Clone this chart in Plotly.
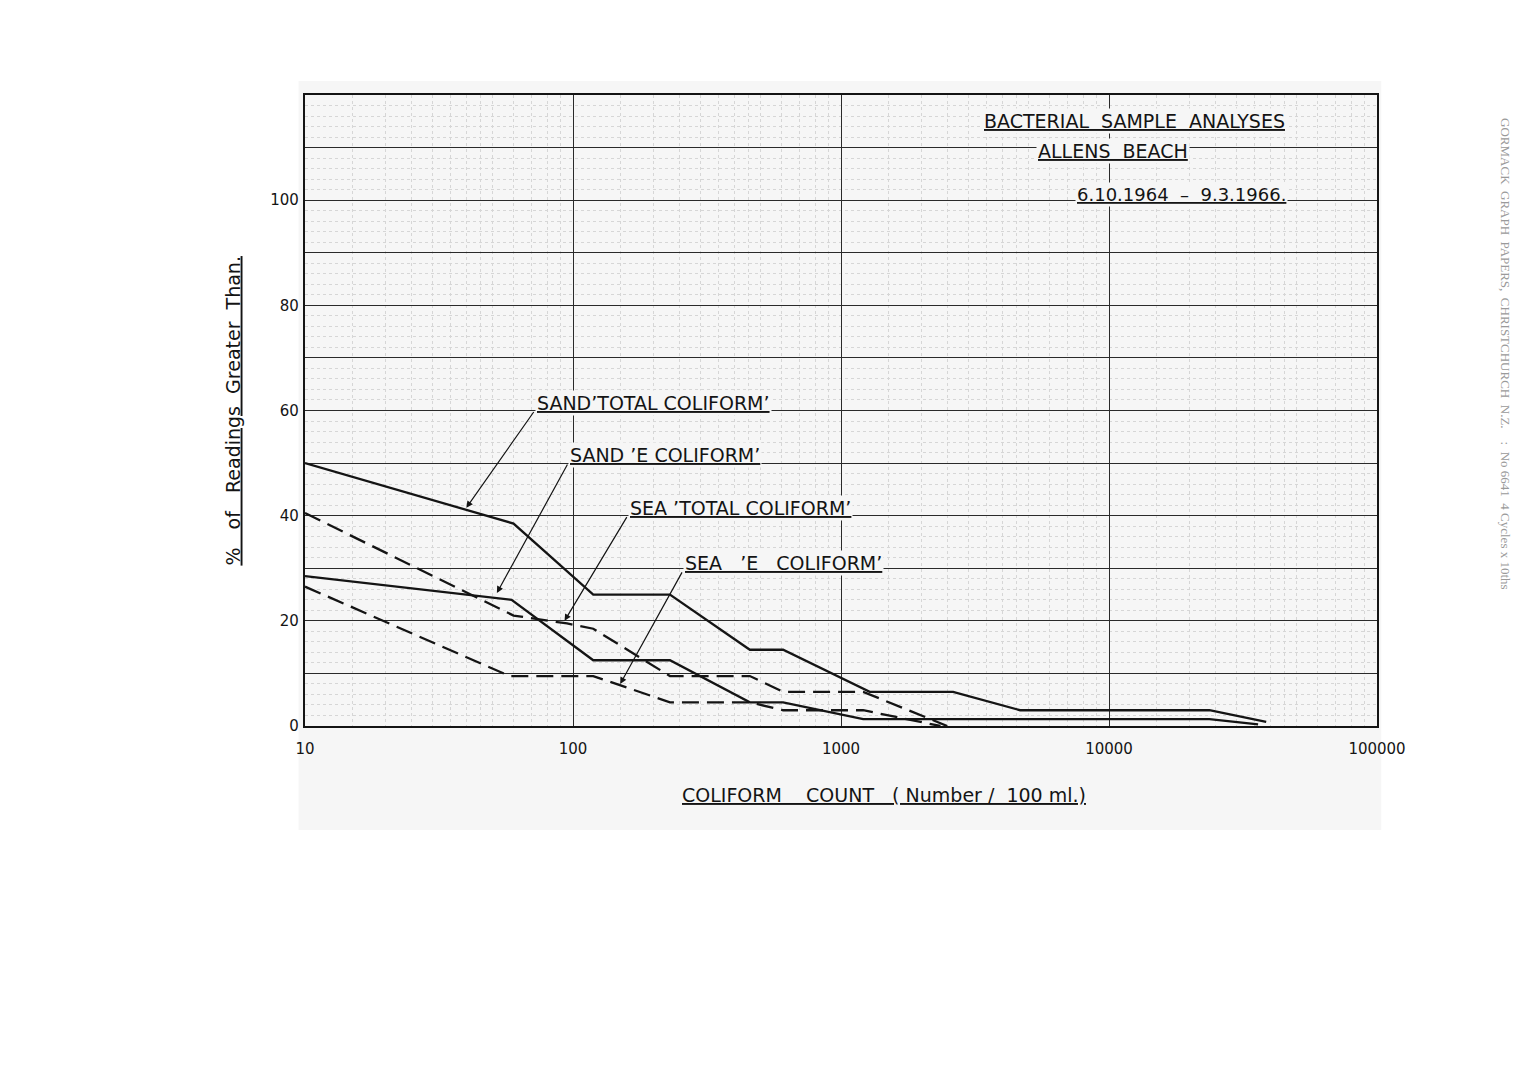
import math
import plotly.graph_objects as go

# ---------------- data ----------------
sand_total_x = [10, 60, 119, 230, 457, 608, 1280, 2620, 4660, 23700, 38600]
sand_total_y = [50, 38.5, 25, 25, 14.5, 14.5, 6.5, 6.5, 3, 3, 0.8]

sand_e_x = [10, 59, 119, 230, 457, 608, 1210, 23700, 36000]
sand_e_y = [28.5, 24, 12.5, 12.5, 4.5, 4.5, 1.3, 1.3, 0.3]

sea_total_x = [10, 60, 95, 119, 230, 457, 608, 1210, 2490]
sea_total_y = [40.5, 21, 19.5, 18.5, 9.5, 9.5, 6.5, 6.5, 0]

sea_e_x = [10, 58, 119, 230, 457, 608, 1210, 2350]
sea_e_y = [26.5, 9.5, 9.5, 4.5, 4.5, 3, 3, 0]

series_labels = ["SAND’TOTAL COLIFORM’", "SAND ’E COLIFORM’",
                 "SEA ’TOTAL COLIFORM’", "SEA   ’E   COLIFORM’"]
arrow_tip_x = [40, 52, 93, 150]
arrow_tip_y = [41.5, 25.3, 20, 8]
label_x = [72, 96, 160, 257]
label_y = [60, 50, 40, 29.5]

x_tick_vals = [10, 100, 1000, 10000, 100000]
x_tick_text = ["10", "100", "1000", "10000", "100000"]
y_tick_vals = [0, 20, 40, 60, 80, 100]

title_lines = ["BACTERIAL  SAMPLE  ANALYSES", "ALLENS  BEACH", "6.10.1964  –  9.3.1966."]
x_title = "COLIFORM    COUNT   ( Number /  100 ml.)"
y_title = "%   of   Readings  Greater  Than."
paper_note = "GORMACK  GRAPH  PAPERS,  CHRISTCHURCH  N.Z.    :  No 6641  4 Cycles x 10ths"

# ---------------- styling ----------------
FONT = "DejaVu Sans"
INK = "#141414"
BG = "#f6f6f6"

fig = go.Figure()

series = [
    (sand_total_x, sand_total_y, "solid"),
    (sand_e_x, sand_e_y, "solid"),
    (sea_total_x, sea_total_y, "17px,8px"),
    (sea_e_x, sea_e_y, "17px,8px"),
]
for (xs, ys, dash), name in zip(series, series_labels):
    fig.add_trace(go.Scatter(x=xs, y=ys, mode="lines", name=name,
                             line=dict(color=INK, width=2.3, dash=dash),
                             showlegend=False, hoverinfo="x+y+name"))

# minor (graph paper) grid positions
minor_x = []
for dec in x_tick_vals[:-1]:
    for k in [1.5, 2, 2.5, 3, 3.5, 4, 4.5, 5, 6, 7, 8, 9]:
        minor_x.append(k * dec)

fig.update_xaxes(type="log", range=[1, 5],
                 tickmode="array", tickvals=x_tick_vals, ticktext=x_tick_text,
                 ticks="", ticklabelstandoff=8,
                 tickfont=dict(family=FONT, size=15, color=INK),
                 showgrid=True, gridcolor="#2a2a2a", gridwidth=1.2,
                 showline=True, linecolor=INK, linewidth=2.2, mirror=True,
                 minor=dict(tickmode="array", tickvals=minor_x, showgrid=True,
                            gridcolor="#d6d6d6", gridwidth=0.7, griddash="dot", ticks=""),
                 zeroline=False)
# heavy horizontal lines every 10, labels only every 20
fig.update_yaxes(range=[0, 120], tickmode="linear", tick0=0, dtick=10,
                 labelalias={str(v): "" for v in [10, 30, 50, 70, 90, 110, 120]},
                 ticks="", ticklabelstandoff=1,
                 tickfont=dict(family=FONT, size=15, color=INK),
                 showgrid=True, gridcolor="#2a2a2a", gridwidth=1.2,
                 showline=True, linecolor=INK, linewidth=2.2, mirror=True,
                 minor=dict(dtick=2, showgrid=True, gridcolor="#d6d6d6",
                            gridwidth=0.7, griddash="dot", ticks=""),
                 zeroline=False)

anns = []
# arrows + labels
for i in range(len(series_labels)):
    anns.append(dict(x=math.log10(arrow_tip_x[i]), y=arrow_tip_y[i], xref="x", yref="y",
                     ax=math.log10(label_x[i]), ay=label_y[i], axref="x", ayref="y",
                     text="", showarrow=True, arrowhead=2, arrowsize=1.1,
                     arrowwidth=1.2, arrowcolor=INK, standoff=0, startstandoff=0))
    anns.append(dict(x=math.log10(label_x[i]), y=label_y[i], xref="x", yref="y",
                     text="<u>" + series_labels[i] + "</u>", showarrow=False,
                     xanchor="left", yanchor="bottom", yshift=-5,
                     bgcolor=BG, borderpad=1,
                     font=dict(family=FONT, size=19, color=INK)))

# title block
anns.append(dict(x=0.774, y=115, xref="paper", yref="y", text="<u>" + title_lines[0] + "</u>",
                 showarrow=False, bgcolor=BG, xanchor="center",
                 font=dict(family=FONT, size=19, color=INK)))
anns.append(dict(x=0.754, y=109.3, xref="paper", yref="y", text="<u>" + title_lines[1] + "</u>",
                 showarrow=False, bgcolor=BG, xanchor="center",
                 font=dict(family=FONT, size=19, color=INK)))
anns.append(dict(x=0.818, y=99.5, xref="paper", yref="y", text="<u>" + title_lines[2] + "</u>",
                 showarrow=False, bgcolor=BG, xanchor="center", yanchor="bottom", yshift=-4,
                 font=dict(family=FONT, size=18, color=INK)))

# axis titles
anns.append(dict(x=0.54, y=-0.11, xref="paper", yref="paper", text="<u>" + x_title + "</u>",
                 showarrow=False, xanchor="center", yanchor="middle",
                 font=dict(family=FONT, size=19, color=INK)))
anns.append(dict(x=-0.068, y=0.5, xref="paper", yref="paper", text="<u>" + y_title + "</u>",
                 textangle=-90, showarrow=False, xanchor="center", yanchor="middle",
                 font=dict(family=FONT, size=19, color=INK)))

# printed paper maker's note (right margin)
anns.append(dict(x=1.12, y=0.59, xref="paper", yref="paper", text=paper_note,
                 textangle=90, showarrow=False, xanchor="center", yanchor="middle",
                 font=dict(family="Liberation Serif", size=13, color="#9a9a9a")))

fig.update_layout(
    width=1520, height=1084,
    margin=dict(l=305, r=143, t=95, b=358),
    paper_bgcolor="white", plot_bgcolor=BG,
    annotations=anns,
    shapes=[dict(type="rect", xref="paper", yref="paper", x0=-0.006, x1=1.004,
                 y0=-0.165, y1=1.022, fillcolor=BG, line=dict(width=0), layer="below")],
    showlegend=False,
)

fig.write_html("out.html")
